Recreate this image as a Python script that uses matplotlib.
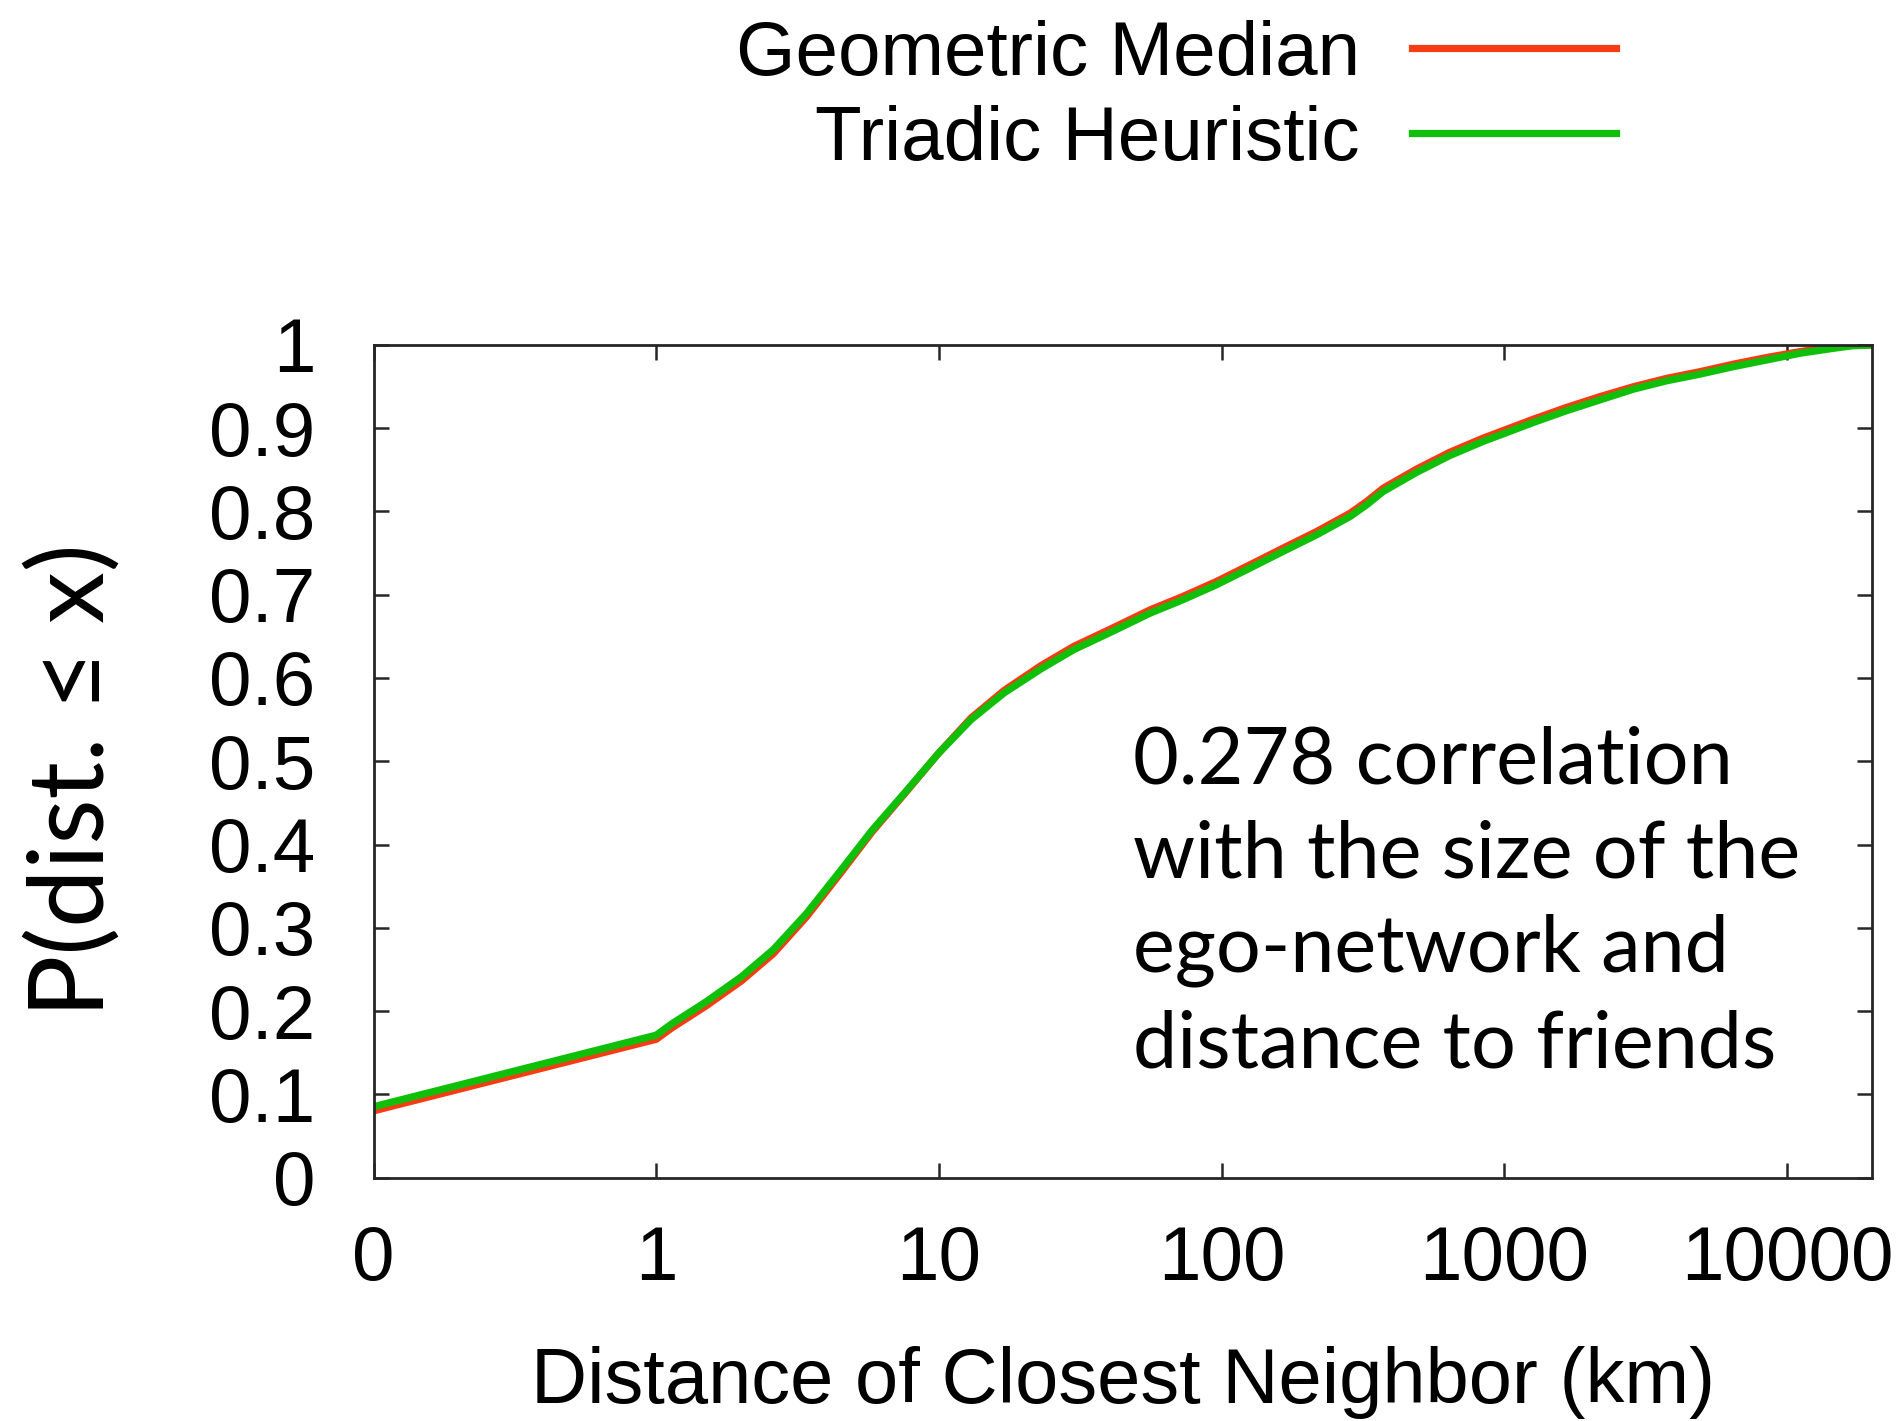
import matplotlib
matplotlib.use('Agg')
import matplotlib.pyplot as plt
import numpy as np

# CDF of distance to closest neighbor (km)
dist_km = [0, 0.5, 1, 1.14, 1.5, 2, 2.6, 3.4, 4.5, 5.8, 7.7, 10, 13, 17, 23, 30,
           40, 56, 73, 96, 126, 165, 217, 285, 326, 373, 490, 640, 840, 1100,
           1270, 1660, 2180, 2870, 3760, 4930, 6470, 8490, 11100, 14600, 17000, 20000]

geo_median = [0.080, 0.123, 0.166, 0.180, 0.206, 0.236, 0.269, 0.313, 0.366, 0.415,
              0.464, 0.510, 0.552, 0.585, 0.615, 0.638, 0.658, 0.682, 0.698, 0.716,
              0.736, 0.756, 0.776, 0.798, 0.812, 0.828, 0.851, 0.871, 0.888, 0.903,
              0.911, 0.925, 0.938, 0.950, 0.960, 0.968, 0.977, 0.985, 0.992, 0.998,
              1.0, 1.0]

triadic = [0.085, 0.128, 0.171, 0.185, 0.211, 0.241, 0.274, 0.317, 0.369, 0.417,
           0.465, 0.510, 0.550, 0.582, 0.611, 0.634, 0.654, 0.678, 0.694, 0.712,
           0.732, 0.752, 0.772, 0.794, 0.808, 0.824, 0.847, 0.867, 0.884, 0.899,
           0.907, 0.921, 0.934, 0.947, 0.957, 0.965, 0.974, 0.982, 0.990, 0.996,
           0.999, 1.0]

xticks = [0, 1, 10, 100, 1000, 10000]
xtick_labels = ['0', '1', '10', '100', '1000', '10000']
yticks = [0, 0.1, 0.2, 0.3, 0.4, 0.5, 0.6, 0.7, 0.8, 0.9, 1]
ytick_labels = ['0', '0.1', '0.2', '0.3', '0.4', '0.5', '0.6', '0.7', '0.8', '0.9', '1']

note = "0.278 correlation\nwith the size of the\nego-network and\ndistance to friends"


# log axis, with the 0..1 km bin squeezed into one linear "decade"
def fwd(x):
    x = np.asarray(x, dtype=float)
    return np.where(x < 1, x - 1, np.log10(np.maximum(x, 1)))


def inv(y):
    y = np.asarray(y, dtype=float)
    return np.where(y < 0, y + 1, 10 ** y)


plt.rcParams['font.family'] = ['Liberation Sans', 'DejaVu Sans']

W, H = 1902, 1421
fig = plt.figure(figsize=(W / 100, H / 100), dpi=100)
ax = fig.add_axes([373.5 / W, 1 - 1177.5 / H, 1498.5 / W, 832.5 / H])

red = '#f53c14'
green = '#10bf0a'
l1, = ax.plot(dist_km, geo_median, color=red, lw=5.2, solid_joinstyle='round')
l2, = ax.plot(dist_km, triadic, color=green, lw=5.2, solid_joinstyle='round')

ax.set_xscale('function', functions=(fwd, inv))
ax.set_xlim(0, 20000)
ax.set_ylim(0, 1)
ax.set_xticks(xticks, labels=xtick_labels)
ax.set_yticks(yticks, labels=ytick_labels)
ax.minorticks_off()

for s in ax.spines.values():
    s.set_linewidth(2)
    s.set_color('#262626')
ax.tick_params(direction='in', length=11, width=1.8, color='#262626',
               top=True, right=True, labelsize=55)
ax.tick_params(axis='y', pad=42)
ax.tick_params(axis='x', pad=34)

ax.set_xlabel('Distance of Closest Neighbor (km)', fontsize=56, labelpad=36)
ax.set_ylabel('P(dist. ≤ x)', fontsize=75, family=['Lato', 'DejaVu Sans'], va='center')
ax.yaxis.set_label_coords((73 - 373.5) / 1498.5, (1177.5 - 780) / 832.5)

# multi-line text: the baseline anchor sits on the last line
ax.text((1133 - 373.5) / 1498.5, (1177.5 - 1067) / 832.5, note, transform=ax.transAxes,
        fontsize=57, family=['Lato', 'DejaVu Sans'], va='baseline', ha='left',
        linespacing=1.38)

ax.legend([l1, l2], ['Geometric Median', 'Triadic Heuristic'],
          loc='upper right', bbox_to_anchor=(1616 / W, 1 - 20 / H), bbox_transform=fig.transFigure,
          frameon=False, markerfirst=False, fontsize=55, handlelength=2.67,
          handletextpad=0.68, borderpad=0, borderaxespad=0, labelspacing=0.18)

fig.savefig('out.png', dpi=100)
